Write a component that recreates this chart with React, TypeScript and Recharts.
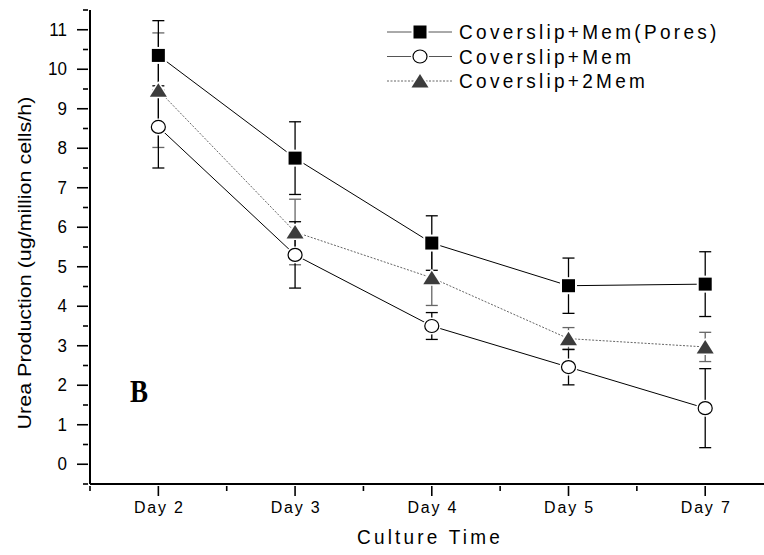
import { LineChart, Line, XAxis, YAxis, ErrorBar, Legend, Label } from 'recharts';

// culture days and measured urea production (mean, error)
const days = ['Day 2', 'Day 3', 'Day 4', 'Day 5', 'Day 7'];
const seriesNames = ['Coverslip+Mem(Pores)', 'Coverslip+Mem', 'Coverslip+2Mem'];

const pores = [10.35, 7.75, 5.6, 4.52, 4.56];
const poresErr = [0.88, 0.92, 0.69, 0.7, 0.82];

const mem = [8.54, 5.3, 3.5, 2.46, 1.42];
const memErr = [1.04, 0.84, 0.34, 0.45, 1.0];

const twoMem = [9.47, 5.88, 4.72, 3.18, 2.97];
const twoMemErr = [1.45, 0.83, 0.7, 0.28, 0.37];

const xTicks = [-0.5, 0, 0.5, 1, 1.5, 2, 2.5, 3, 3.5, 4];
const yTicks = [
  -0.5, 0, 0.5, 1, 1.5, 2, 2.5, 3, 3.5, 4, 4.5, 5, 5.5, 6,
  6.5, 7, 7.5, 8, 8.5, 9, 9.5, 10, 10.5, 11, 11.5,
];

const data = days.map((day, i) => ({
  x: i,
  day,
  pores: pores[i],
  poresErr: poresErr[i],
  mem: mem[i],
  memErr: memErr[i],
  twoMem: twoMem[i],
  twoMemErr: twoMemErr[i],
}));

const FONT = '"Liberation Sans", Arial, sans-serif';
const TRI = '#3c3c3c';

function Square({ cx, cy }: { cx: number; cy: number }) {
  return (
    <rect
      x={cx - 6.5}
      y={cy - 6.5}
      width={13}
      height={13}
      fill="#000"
      stroke="#fff"
      strokeWidth={4}
      paintOrder="stroke"
    />
  );
}

function Circle({ cx, cy }: { cx: number; cy: number }) {
  return (
    <g>
      <ellipse cx={cx} cy={cy} rx={7} ry={6.5} fill="#fff" stroke="#fff" strokeWidth={4} />
      <ellipse cx={cx} cy={cy} rx={7} ry={6.5} fill="#fff" stroke="#000" strokeWidth={1.2} />
    </g>
  );
}

function Triangle({ cx, cy }: { cx: number; cy: number }) {
  const pts = `${cx - 8.5},${cy + 6.5} ${cx + 8.5},${cy + 6.5} ${cx},${cy - 7}`;
  return (
    <polygon
      points={pts}
      fill={TRI}
      stroke="#fff"
      strokeWidth={3}
      strokeLinejoin="round"
      paintOrder="stroke"
    />
  );
}

// text with an optional vertical stretch
function SText({ x, y, size, spacing = 0, anchor = 'start', children, family = FONT, weight = 'normal', stretch = 1.08 }: any) {
  return (
    <text
      transform={`translate(${x},${y}) scale(1,${stretch})`}
      x={0}
      y={0}
      fontFamily={family}
      fontSize={size}
      fontWeight={weight}
      letterSpacing={spacing}
      textAnchor={anchor}
      fill="#000"
    >
      {children}
    </text>
  );
}

function XTick({ x, y, payload }: any) {
  const v = payload.value;
  const major = Number.isInteger(v);
  return (
    <g>
      <line x1={x} x2={x} y1={y} y2={y + (major ? 10 : 5)} stroke="#000" strokeWidth={1.6} />
      {major && (
        <SText x={x + 1} y={y + 27} size={16} spacing={1.8} anchor="middle">
          {days[v]}
        </SText>
      )}
    </g>
  );
}

function YTick({ x, y, payload }: any) {
  const v = payload.value;
  const major = Number.isInteger(v);
  return (
    <g>
      <line x1={x} x2={x - (major ? 11 : 5)} y1={y} y2={y} stroke="#000" strokeWidth={1.6} />
      {major && (
        <SText x={x - 21} y={y + 6} size={17} anchor="end" stretch={1.05}>
          {v}
        </SText>
      )}
    </g>
  );
}

function LegendBox() {
  const rows = [
    { name: seriesNames[0], Mark: Square, dash: undefined, color: '#555' },
    { name: seriesNames[1], Mark: Circle, dash: undefined, color: '#555' },
    { name: seriesNames[2], Mark: Triangle, dash: '2 1.5', color: '#666' },
  ];
  return (
    <svg width={380} height={80} style={{ display: 'block', overflow: 'visible' }}>
      {rows.map((r, i) => {
        const cy = 14 + i * 24.5;
        return (
          <g key={r.name}>
            <line x1={7} x2={72} y1={cy} y2={cy} stroke={r.color} strokeWidth={1} strokeDasharray={r.dash} />
            <r.Mark cx={40} cy={cy} />
            <SText x={79} y={cy + 7} size={19} spacing={3.3}>
              {r.name}
            </SText>
          </g>
        );
      })}
    </svg>
  );
}

export default function App() {
  return (
    <div style={{ position: 'absolute', left: 0, top: 0, width: 764, height: 555, background: '#fff' }}>
      <LineChart width={764} height={555} data={data} margin={{ top: 10, right: 0, bottom: 0, left: 0 }}>
        <XAxis
          type="number"
          dataKey="x"
          domain={[-0.5, 4.43]}
          ticks={xTicks}
          interval={0}
          height={71}
          tickSize={0}
          tickLine={false}
          tick={<XTick />}
          axisLine={{ stroke: '#000', strokeWidth: 2 }}
        >
          <Label
            content={({ viewBox }: any) => (
              <SText x={viewBox.x + viewBox.width / 2 + 3} y={viewBox.y + 60} size={19} spacing={3.2} anchor="middle">
                Culture Time
              </SText>
            )}
          />
        </XAxis>
        <YAxis
          type="number"
          domain={[-0.5, 11.5]}
          ticks={yTicks}
          interval={0}
          width={90}
          tickSize={0}
          tickLine={false}
          tick={<YTick />}
          axisLine={{ stroke: '#000', strokeWidth: 2 }}
        >
          <Label
            content={({ viewBox }: any) => (
              <text
                transform={`translate(31,${viewBox.y + viewBox.height / 2 + 16}) rotate(-90) scale(1.13,1)`}
                x={0}
                y={0}
                fontFamily={FONT}
                fontSize={19}
                textAnchor="middle"
                fill="#000"
              >
                Urea Production (ug/million cells/h)
              </text>
            )}
          />
        </YAxis>
        <Legend
          layout="vertical"
          align="center"
          verticalAlign="middle"
          wrapperStyle={{ left: 380, top: 18, width: 380, height: 80 }}
          content={() => <LegendBox />}
        />
        <Line
          dataKey="twoMem"
          stroke="#666"
          strokeWidth={1}
          strokeDasharray="2 1.5"
          isAnimationActive={false}
          dot={(p: any) => <Triangle key={`t${p.index}`} cx={p.cx} cy={p.cy} />}
        >
          <ErrorBar dataKey="twoMemErr" direction="y" width={6} stroke="#666" strokeWidth={1.3} />
        </Line>
        <Line
          dataKey="mem"
          stroke="#000"
          strokeWidth={1}
          isAnimationActive={false}
          dot={(p: any) => <Circle key={`c${p.index}`} cx={p.cx} cy={p.cy} />}
        >
          <ErrorBar dataKey="memErr" direction="y" width={6} stroke="#000" strokeWidth={1.3} />
        </Line>
        <Line
          dataKey="pores"
          stroke="#000"
          strokeWidth={1}
          isAnimationActive={false}
          dot={(p: any) => <Square key={`s${p.index}`} cx={p.cx} cy={p.cy} />}
        >
          <ErrorBar dataKey="poresErr" direction="y" width={6} stroke="#000" strokeWidth={1.3} />
        </Line>
      </LineChart>
      <svg
        width={764}
        height={555}
        style={{ position: 'absolute', left: 0, top: 0, pointerEvents: 'none' }}
      >
        <SText x={139} y={402} size={27} anchor="middle" stretch={1.2} family={'"Liberation Serif", "Times New Roman", serif'} weight="bold">
          B
        </SText>
      </svg>
    </div>
  );
}
